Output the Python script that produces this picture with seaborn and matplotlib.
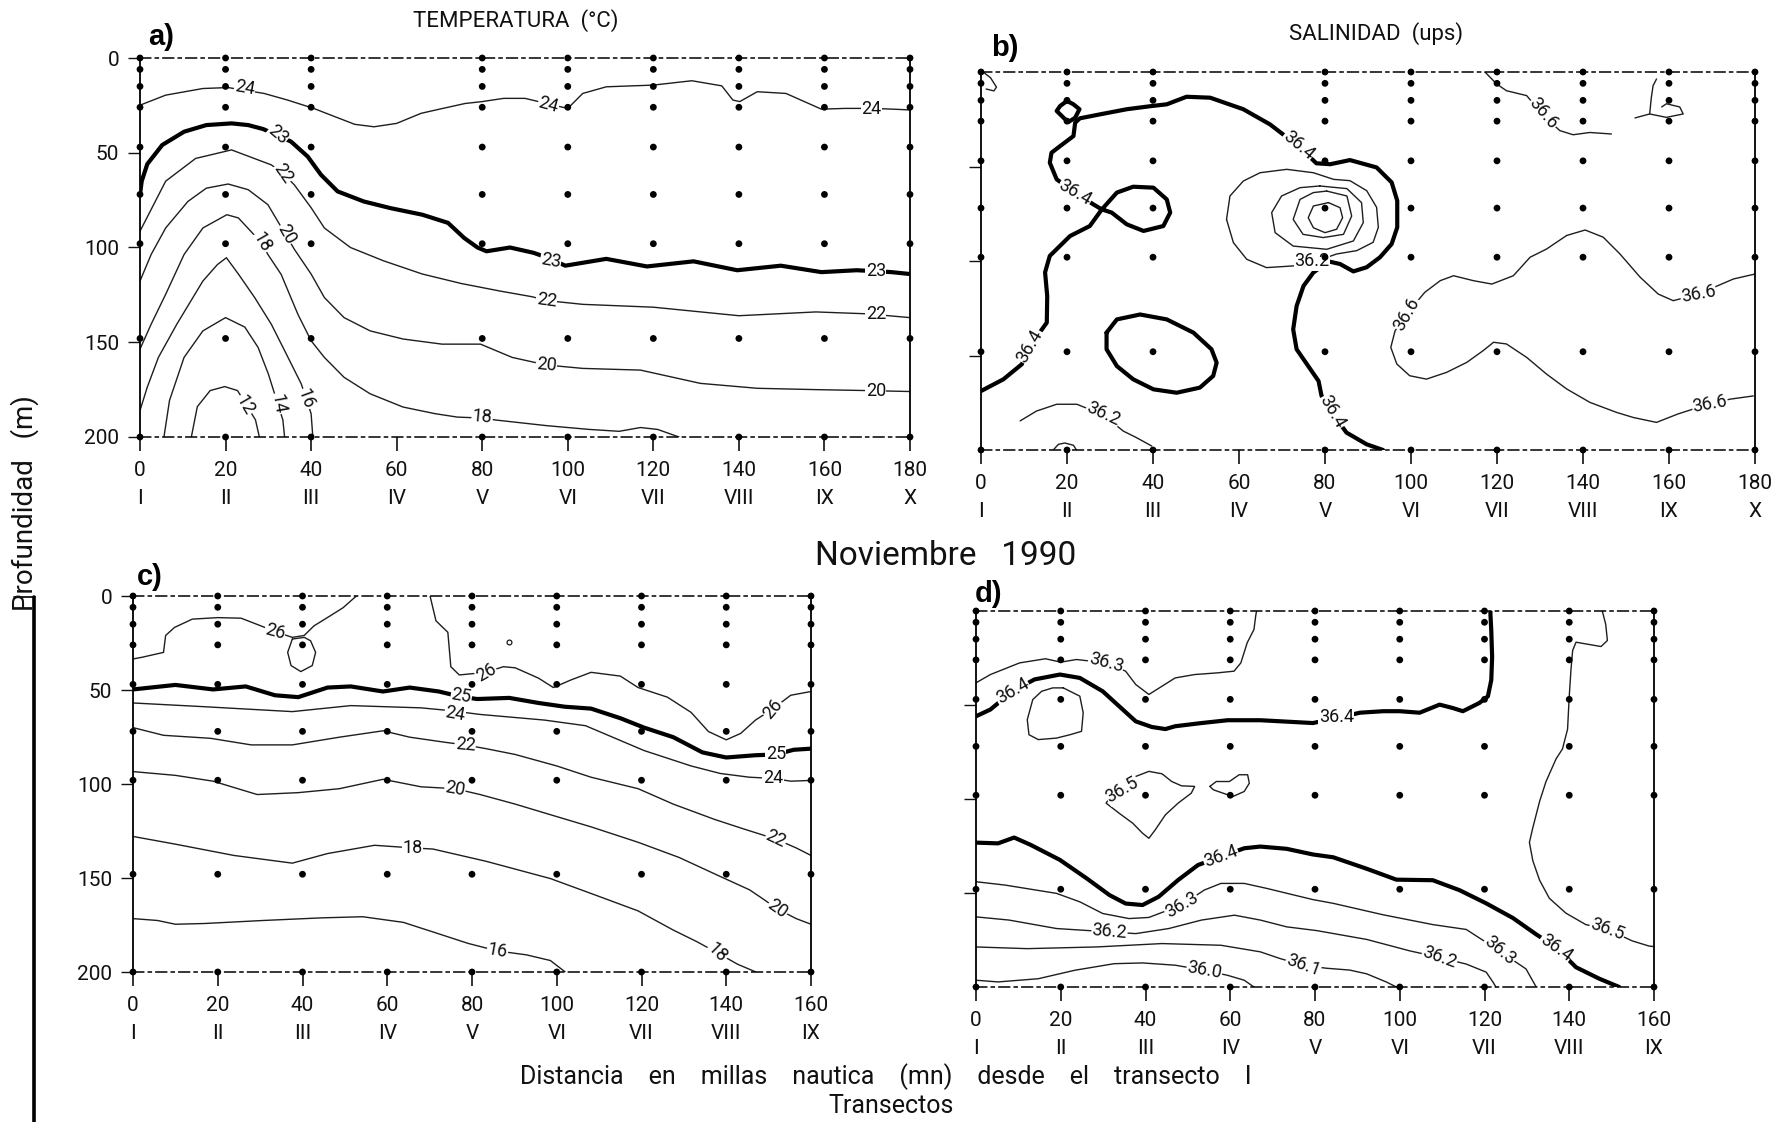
import matplotlib
matplotlib.use("Agg")
import matplotlib.pyplot as plt
from matplotlib.lines import Line2D
import seaborn as sns

## Stations and sampling depths
stations_ab = [0, 20, 40, 80, 100, 120, 140, 160, 180]
stations_cd = [0, 20, 40, 60, 80, 100, 120, 140, 160]
sample_depths = [0, 6, 15, 26, 47, 72, 98, 148, 200]
ticks_ab = [0, 20, 40, 60, 80, 100, 120, 140, 160, 180]
ticks_cd = [0, 20, 40, 60, 80, 100, 120, 140, 160]
roman = ['I', 'II', 'III', 'IV', 'V', 'VI', 'VII', 'VIII', 'IX', 'X']
depth_ticks = [0, 50, 100, 150, 200]

## a) Temperatura - isotherm depth (m) along the section (mn)
a_t24_x = [0, 6, 14.7, 20.6, 29, 34.5, 40.6, 45.6, 50.2, 54.7, 60, 65.7, 70, 76, 80, 85, 90, 95, 100, 103.5,
           109, 120, 129, 136, 138.6, 140.2, 144.3, 151, 159.3, 164.8, 171, 176, 180]
a_t24_d = [24.9, 19.6, 16.1, 15.6, 18.7, 22.2, 26.6, 31, 35, 36.3, 34.5, 29.2, 27, 24, 23, 21.3, 21.3, 24, 26.6, 18.7,
           15.2, 14.3, 12, 14.7, 22.2, 23, 17.8, 18.7, 27, 26.6, 26.6, 27, 27.4]
a_t23_x = [0, 0.4, 1.7, 5.2, 10.3, 15.5, 21.4, 25.3, 28.8, 35.3, 39.2, 42.3, 46.2, 52.3, 58.5, 66, 72, 75.8, 78.9, 81,
           86.5, 92, 96, 99.4, 109, 118.5, 129.4, 139.6, 149.8, 159.3, 167.5, 172, 175.7, 180]
a_t23_d = [72, 65, 56, 45.9, 38.9, 35.4, 34.5, 35.4, 37.5, 44.1, 52, 61.6, 70.4, 75.7, 79.2, 82.7, 87, 95, 100, 102,
           100, 102.8, 106, 109.6, 106, 110, 107.3, 112, 109.6, 113, 112, 112.5, 113, 114]
a_t22_x = [0, 6, 13, 21.4, 30.7, 33.4, 36.1, 40, 43.1, 49.2, 56.9, 66, 75.1, 84.2, 91.7, 95, 103.5, 120, 140, 158, 170, 180]
a_t22_d = [91.4, 65, 53, 48.5, 56.4, 60.8, 67, 79, 89.7, 100, 107, 114, 119, 123, 126, 128, 130, 131.5, 136, 134, 135, 137]
a_t20_x = [0, 2.6, 6, 11.2, 15.5, 20.6, 25.3, 29.9, 36.1, 40, 43.1, 47.7, 53.8, 61.5, 70.6, 79.6, 87, 95, 103.5, 117,
           131, 144.3, 158, 170, 180]
a_t20_d = [117.7, 103.7, 89.7, 75.7, 68.7, 66.5, 69.5, 77.4, 101, 114, 126.4, 137, 144, 148.3, 151, 151, 158, 162, 163.8,
           164.7, 171.7, 174.3, 175, 175.5, 176]
a_t18_x = [0, 2.6, 6, 10.3, 14.7, 20.3, 23, 28.4, 29.9, 33, 36.9, 40, 43.1, 47.7, 53.8, 61.5, 69, 74.2, 80, 83, 95, 105,
           112, 117, 121, 126]
a_t18_d = [153.6, 140.5, 124.7, 103.7, 89.7, 82.7, 84.4, 97.5, 103.7, 114.2, 135.2, 149.2, 158, 168.5, 177.2, 184.2,
           187.7, 189.5, 190, 191, 194, 196, 197, 195, 196, 200]
a_t16_x = [0, 1.7, 4.3, 8.6, 14.7, 18.1, 20.2, 23, 26.8, 30.7, 34.6, 37.7, 40, 40.4]
a_t16_d = [186, 173.7, 158, 140.5, 117.7, 109, 105.4, 114, 126.4, 140.5, 158, 172, 187.7, 200]
a_t14_x = [5.6, 6.9, 10.3, 14.7, 20, 24.5, 27.6, 30, 31.1, 33.4, 33.8]
a_t14_d = [200, 180.7, 158, 144, 137, 142, 152.7, 166.7, 174.6, 191, 200]
a_t12_x = [12, 13.4, 16.4, 19.8, 22.8, 27, 27.9]
a_t12_d = [200, 184, 175.5, 173.4, 175.5, 191, 200]

## b) Salinidad
b_s364_x = [0, 5.2, 9.5, 11.4, 15.3, 15.4, 14.9, 16, 20.7, 25.3, 28.1, 31.6, 35.4, 40.1, 43.2, 44, 42.4, 37.8, 33.9,
            30.4, 28.1, 26.1, 21.9, 17.6, 16, 16.4, 18.4, 21.5, 21.9, 23, 27.7, 33.9, 39.7, 43.2, 47.8, 53.3, 61, 67.2,
            73.8, 78, 81.2, 85.8, 92, 95.5, 96.8, 96.8, 95.5, 92.8, 89.7, 86.6, 83.5, 80.8, 77.3, 75, 73.4, 72.6, 73.4,
            76.1, 78.5, 79.2, 81.6, 85, 89.7, 93.5]
b_s364_d = [168.8, 162.6, 154.6, 145, 132.6, 118.5, 106, 97.3, 86.8, 81.5, 72.7, 63.8, 60.7, 61.2, 67.4, 74.4, 81.5,
            84.1, 80.6, 74.4, 72.7, 70, 63.8, 56.8, 48, 42.7, 39.2, 33.9, 26.8, 24.5, 22.4, 19.7, 18, 17.1, 13.1, 13.6,
            19.7, 27.7, 39.2, 48.3, 48.8, 46.6, 50.5, 58.4, 68.1, 82.2, 91, 98, 103.3, 105.5, 101.6, 100.2, 106.1, 113.2,
            123.8, 136.2, 146.7, 155.6, 163.5, 171.4, 180.2, 190.8, 197, 200]
b_s364_ring_x = [29.2, 31.6, 37, 43.2, 49.4, 53.6, 54.8, 54, 50.9, 45.5, 40.1, 35.4, 31.6, 29.2, 29.2]
b_s364_ring_d = [137.9, 130.9, 128.3, 130.9, 137.9, 146.7, 153.8, 160.8, 167, 169.7, 167.9, 162.6, 155.6, 146.7, 137.9]
b_s364_small_x = [20, 18.4, 17.6, 19.2, 20.3, 21.9, 22.9, 21.5, 20]
b_s364_small_d = [15.3, 18, 20.6, 24.2, 26.5, 24.2, 19.7, 17.1, 15.3]
b_corner_x = [0.5, 2.2, 3.6, 3.0, 1.2]
b_corner_d = [0, 3, 8, 10, 9]
b_eddy1_x = [80.8, 83.5, 84.1, 82.7, 80, 77.3, 76.1, 77.3, 80.8]
b_eddy1_d = [69.1, 71.8, 77.1, 83.2, 85, 82.4, 77.1, 70.9, 69.1]
b_eddy2_x = [80.4, 85.1, 86.2, 84.3, 79.6, 74.9, 72.6, 74.2, 77.3, 80.4]
b_eddy2_d = [63, 65.6, 76.2, 85.9, 87.6, 85.9, 78, 67.4, 63.8, 63]
b_eddy3_x = [78.8, 85.1, 88.5, 88.9, 86.6, 80.4, 72.6, 68.4, 67.6, 69.9, 74.2, 78.8]
b_eddy3_d = [60.3, 61.7, 69.1, 79.7, 89.4, 93.8, 92.1, 85, 74.4, 65.6, 61.2, 60.3]
b_s362_eddy_x = [57.1, 57.9, 61, 64.9, 71.1, 77.3, 82, 85.8, 89.7, 92, 92.4, 91.2, 87.4, 82.7, 78, 72.6, 66.4, 61.8,
                 58.7, 57.1]
b_s362_eddy_d = [78, 65.6, 57.7, 53.3, 51.5, 53.3, 56.8, 57.5, 62.8, 71.6, 82.2, 90.1, 94.5, 96.3, 100, 102.6, 103.5,
                 99.1, 90.3, 78]
b_s362_x = [9.1, 12.9, 17.6, 22.3, 28.4, 33.1, 36.2, 39.7]
b_s362_d = [184.6, 179.4, 175.8, 175.8, 181.4, 190, 193.5, 197.9]
b_s362_arc_x = [16.8, 18, 19.5, 21.5, 22.2]
b_s362_arc_d = [200, 197, 196.3, 197.5, 200]
b_s366_top_x = [117.2, 119.9, 122.2, 126.9, 130.8, 134.6, 137.7, 141.6, 146.6]
b_s366_top_d = [0, 6.3, 9.9, 12.5, 23, 31, 33.2, 32, 32.8]
b_s366_frag_x = [152.1, 155.5, 155.9, 156.3, 157.1]
b_s366_frag_d = [24.3, 22.2, 13.4, 7.2, 3.7]
b_s366_loop_x = [155.5, 159.4, 163.3, 162.5, 159.4, 158.3]
b_s366_loop_d = [22.2, 24, 22.2, 18.5, 16.8, 18.5]
b_s366_x = [180, 175, 166.8, 161, 157.5, 153.3, 148.6, 144.7, 140.5, 136.2, 131.5, 127.7, 123.8, 118.8, 114.5, 109.9,
            106.8, 103.2, 99, 96.3, 95.3, 96.7, 99.7, 103.6, 108.3, 113, 116.8, 119.2, 122.2, 126.9, 131.5, 136.2, 141.6,
            147.8, 151.7, 157.1, 162, 169.5, 174.2, 179.6]
b_s366_d = [106.9, 109.5, 117.5, 121, 117.5, 108.6, 96.3, 87.4, 83.6, 86.5, 93.7, 98, 107.8, 112.2, 110.4, 107.8, 110.4,
            116.6, 128, 136.9, 145.7, 154.5, 160.7, 162.5, 158.9, 153.6, 147.4, 143, 143.9, 151, 159.8, 167.7, 174.8,
            180.1, 182.8, 185.4, 181, 175.5, 173.1, 171.4]

## c) Temperatura
c_t26_x = [0, 2.1, 7.2, 7.7, 9.8, 14, 20, 25.5, 30.2, 34.1, 37.6, 40.4, 42.7, 46.5, 49.6, 52.7]
c_t26_d = [33.5, 32.6, 30, 21, 16.7, 12.3, 11.5, 11.8, 15.9, 19.4, 22, 21, 15.9, 10.6, 6.2, 0]
c_t26_loop_x = [37.6, 36.5, 37.3, 39.6, 42.3, 43.1, 41.9, 40.4, 37.6]
c_t26_loop_d = [22.9, 30, 37, 40.2, 37, 30, 23.8, 22, 22.9]
c_t26b_x = [70.1, 71.5, 74.3, 75, 77, 83.3, 87.4, 90.2, 95.7, 99.2, 103.3, 108.1, 115, 119.2, 126.1, 131.7, 135.8, 140,
            143.4, 146.9, 151, 155.2, 160]
c_t26b_d = [0, 13.2, 19.3, 37.6, 42, 40.6, 37.6, 38.2, 43.7, 48.7, 44.7, 40.6, 42.6, 48.7, 53.8, 61.9, 72.1, 76.5, 73.1,
            66, 60, 52.8, 50.8]
c_t25_x = [0, 10, 18.9, 26.6, 33.5, 39, 45.9, 51.4, 59, 65.3, 72.2, 77, 81.2, 88.8, 95.7, 101.9, 108.1, 115, 120.6,
           127.5, 134.4, 140, 146.9, 151.7, 155.9, 160]
c_t25_d = [49.7, 47.3, 49.7, 48.1, 52.8, 53.8, 48.7, 48.1, 50.8, 48.7, 50.8, 53.4, 54.8, 54.2, 56.9, 58.9, 59.9, 65, 70,
           75.1, 83.2, 85.9, 84.7, 84.3, 81.8, 81.2]
c_t24_x = [0, 16.9, 37.6, 51.4, 68, 75, 81.9, 97.1, 106.8, 120.6, 131.7, 138.6, 145.5, 151, 155.2, 160]
c_t24_d = [56.9, 58.9, 61.5, 58.3, 59.5, 61, 63, 66, 69, 82.2, 90.4, 94.4, 96.4, 97, 98.5, 98.1]
c_t22_x = [0, 7.2, 18.3, 27.9, 37.6, 48.7, 59, 65.3, 73.6, 78.4, 83.3, 90.2, 100, 108.1, 119.2, 127.5, 137.2, 144.1,
           151.7, 156.5, 160]
c_t22_d = [70, 74.1, 75.7, 79.2, 79.2, 75.1, 71.7, 75.1, 77.8, 79.2, 81.2, 84.3, 90.4, 96.4, 102.5, 110.7, 118.8, 123.9,
           129.3, 134, 138]
c_t20_x = [0, 10, 18.9, 29.3, 39, 48.7, 59, 68, 76, 81.9, 90.2, 99.2, 108.1, 119.2, 128.9, 138.6, 145.5, 148.2, 152.1,
           156.5, 160]
c_t20_d = [93.4, 95.4, 98.5, 105.6, 104.6, 102.5, 97.5, 101.5, 102.5, 105.6, 110.7, 116.8, 122.8, 131, 139.1, 149.2,
           156.3, 160.4, 166.5, 171.6, 174.6]
c_t18_x = [0, 10, 23.8, 37.6, 45.9, 57, 66, 70.8, 83.3, 98.5, 109.5, 119.2, 127.5, 133, 137.9, 142.7, 147]
c_t18_d = [127.9, 132, 138, 142.1, 137, 132.6, 134, 134.6, 141.1, 150.3, 159.4, 167.5, 177.7, 183.8, 189.8, 195.9, 200]
c_t16_x = [0, 5.8, 10, 16.9, 30.7, 44.5, 54.2, 63.8, 70.8, 79.1, 86, 92.9, 98.5, 102]
c_t16_d = [171.6, 172.6, 174.6, 174.2, 172.6, 171.2, 170.6, 173.6, 178.7, 184.8, 188.8, 190.9, 193.9, 200]

## d) Salinidad
d_s363_x = [0, 3.4, 10.3, 16.4, 20, 23.7, 30.7, 35.3, 37.7, 40.8, 43.9, 47, 51.6, 57, 60.9, 62.5, 64, 65.6, 66, 66.2]
d_s363_d = [38.2, 33.8, 27.6, 25.4, 27.2, 25.8, 27.6, 32, 39.1, 44.4, 40, 35.6, 33.8, 32.9, 32, 27.6, 16.9, 9.8, 2.7, 0]
d_s364_x = [0, 3.4, 8.6, 13.8, 19.8, 24.5, 29.9, 33.8, 37.7, 41.5, 44.7, 47, 53.2, 59.4, 67.1, 79.5, 85, 90.6, 96.1,
            100, 104.7, 109.4, 112.5, 114.9, 118.8, 120.8, 121.6, 121.8, 121.6, 121.4, 121.4]
d_s364_d = [56, 52.4, 42.7, 36.4, 33.8, 35.6, 42.7, 50.7, 58.7, 61.7, 62.8, 61.3, 59.6, 58.1, 58.1, 59.6, 57, 54.1,
            53.3, 53.3, 54.1, 49.8, 51.6, 53.3, 48.9, 45.4, 36.7, 24.5, 10.5, 1.7, 0]
d_loop_x = [20.6, 24.5, 25.3, 24.9, 22.2, 19, 14.7, 12.5, 12.1, 13.4, 15.5, 18.1, 20.6]
d_loop_d = [40.9, 45.3, 54.2, 64, 65.8, 67.6, 68.4, 65.8, 57.8, 47.1, 42.7, 40.9, 40.9]
d_s365_x = [34.5, 37.7, 40.8, 43.9, 46.2, 48.5, 51.6, 50.8, 47.7, 44.7, 42.3, 40.8, 39.3, 37, 33.8, 30.7, 31.5, 34.5]
d_s365_d = [95, 88, 85.3, 86.6, 90.7, 93, 93.3, 96.9, 102.2, 108.4, 116.4, 120.9, 118.2, 112.9, 107.6, 102.2, 99.5, 95]
d_s365b_x = [55.2, 56.7, 59.8, 62.1, 64.1, 64.5, 63.3, 60.6, 58.3, 56, 55.2]
d_s365b_d = [93.3, 90.7, 90.7, 87.1, 87.1, 91.6, 96, 98.7, 96.9, 95.1, 93.3]
d_s364b_x = [0, 5.2, 9, 12.9, 19.8, 26.1, 31.5, 35.3, 39.3, 43.1, 47.7, 52.4, 57.8, 63.3, 67.1, 73.3, 79.5, 84.3, 92.2,
             99.2, 107.8, 114.1, 120.4, 126.7, 132.2, 136.9, 141.6, 147.1, 151.8]
d_s364b_d = [123.2, 123.6, 120.5, 124.4, 132.4, 142.2, 151.1, 155.6, 156.4, 152, 143.1, 135.1, 130.7, 126.2, 125.3,
             126.5, 129.5, 131, 137.1, 142.9, 143.2, 148.5, 155.5, 163.3, 172, 179, 189.5, 195.6, 200]
d_s363b_x = [0, 6.9, 19, 24.5, 29.9, 36.1, 40.8, 48.5, 53.9, 57.8, 63.3, 68.7, 74.9, 79.5, 84.3, 96.1, 107.8, 115.7,
             123.5, 129.8, 132.2]
d_s363b_d = [144, 145.8, 150.2, 154.7, 160.9, 163.6, 163, 156.4, 148.4, 144.9, 144.9, 147.6, 151, 153.5, 155.5, 161.6,
             166.8, 169.4, 180.8, 190.4, 200]
d_s362_x = [0, 7.8, 19, 31.5, 37.7, 45.5, 53.2, 61, 67.1, 73.3, 80.4, 92.2, 102.4, 109.4, 115.7, 120.4, 122, 122.7]
d_s362_d = [162.7, 164.4, 168.9, 170.7, 171.6, 168.9, 164.4, 161.8, 164.4, 168, 170, 174.7, 180.8, 184.3, 187.8, 192.1,
            197.4, 200]
d_s361_x = [0, 12.1, 28.4, 43.9, 57.8, 67.1, 71.8, 77.2, 82.6, 88.2, 92.2, 96.9, 99.2]
d_s361_d = [178.7, 179.6, 178.7, 176.9, 177.8, 181.3, 184.9, 188.4, 190, 191, 193, 197.4, 200]
d_s360_x = [0, 5.2, 14.7, 23.3, 32.6, 39.3, 47, 53.9, 59.4, 63.3, 65.6]
d_s360_d = [196.4, 197.3, 195.6, 191.1, 187.6, 187.2, 188.4, 191.1, 193.8, 196.4, 200]
d_s365r_x = [147.8, 148.6, 149, 147.5, 143.9, 141.6, 140.8, 140.4, 140, 139.6, 138.4, 136.9, 134.5, 133, 131.4, 130.6,
             131.4, 133, 135.3, 139.2, 143.9, 149, 154.9, 158.8, 160]
d_s365r_d = [0, 7, 15.7, 18.9, 17.5, 16.6, 21, 31.4, 45.4, 62.9, 73.4, 78.6, 90.8, 101.3, 115.3, 123.1, 132.8, 143.2,
             152.8, 160.7, 166.8, 169.4, 175.5, 178.2, 178.5]

sns.set_theme(style='white')
plt.rcParams['font.family'] = ['Roboto', 'DejaVu Sans']
plt.rcParams['font.weight'] = 'normal'

W, H = 1791, 1122
fig = plt.figure(figsize=(W / 100, H / 100), dpi=100)
fig.patch.set_facecolor('white')
TC = '#111111'


def panel(l, t, r, b):
    return fig.add_axes([l / W, 1 - b / H, (r - l) / W, (b - t) / H])


def iso(ax, xs, ds, thick=False):
    sns.lineplot(x=xs, y=ds, ax=ax, sort=False, estimator=None, legend=False,
                 color='black' if thick else '#1e1e1e', linewidth=3.0 if thick else 1.0)


def lab(ax, x, d, s, rot=0):
    ax.text(x, d, s, rotation=rot, ha='center', va='center', fontsize=13, color=TC,
            bbox=dict(facecolor='white', edgecolor='none', pad=0.4), zorder=4)


def frame(ax, xmax, ticks, stations, ylabels):
    ax.set_xlim(0, xmax)
    ax.set_ylim(200, 0)
    ax.set_xlabel('')
    ax.set_ylabel('')
    ax.set_xticks(ticks, labels=[f'{t}\n{roman[i]}' for i, t in enumerate(ticks)])
    for lbl in ax.get_xticklabels():
        lbl.set_linespacing(1.6)
    if ylabels:
        ax.set_yticks(depth_ticks, labels=[str(v) for v in depth_ticks])
    else:
        ax.set_yticks([50, 100, 150], labels=[])
    ax.tick_params(axis='x', direction='out', length=10, width=1.2, pad=7, labelsize=15, colors=TC)
    ax.tick_params(axis='y', direction='out', length=9, width=1.0, pad=6, labelsize=15, colors=TC)
    ax.tick_params(left=True, bottom=True)
    for side in ['left', 'right']:
        ax.spines[side].set_linewidth(1.3)
        ax.spines[side].set_color('black')
    for side in ['top', 'bottom']:
        ax.spines[side].set_linewidth(1.1)
        ax.spines[side].set_color('black')
        ax.spines[side].set_linestyle((0, (7, 3, 2, 3)))
    xs = [s for s in stations for _ in sample_depths]
    ds = [d for _ in stations for d in sample_depths]
    sns.scatterplot(x=xs, y=ds, ax=ax, s=24, color='black', edgecolor='none', zorder=6,
                    clip_on=False, legend=False)


# a) temperature, upper section
ax = panel(140, 58, 910, 437)
for xs, ds, th in [(a_t24_x, a_t24_d, False), (a_t23_x, a_t23_d, True), (a_t22_x, a_t22_d, False),
                   (a_t20_x, a_t20_d, False), (a_t18_x, a_t18_d, False), (a_t16_x, a_t16_d, False),
                   (a_t14_x, a_t14_d, False), (a_t12_x, a_t12_d, False)]:
    iso(ax, xs, ds, th)
for s, x, d, r in [('24', 24.5, 16, -10), ('23', 32.2, 40.6, -40), ('22', 33.4, 61, -55), ('20', 34.2, 93, -60),
                   ('18', 28.4, 97.5, -60), ('16', 38.7, 180, -70), ('14', 32.2, 182.5, -80), ('12', 24.6, 183, -60),
                   ('24', 95.5, 24.5, -15), ('23', 96, 107, -10), ('22', 95, 128, -8), ('20', 95, 162, -5),
                   ('18', 80, 189.5, -5), ('24', 171, 26.8, 0), ('23', 172, 112.5, 0), ('22', 172, 135, 0),
                   ('20', 172, 175.5, 0)]:
    lab(ax, x, d, s, r)
frame(ax, 180, ticks_ab, stations_ab, True)

# b) salinity, upper section
ax = panel(981, 72, 1755, 450)
for xs, ds, th in [(b_s364_x, b_s364_d, True), (b_s364_ring_x, b_s364_ring_d, True),
                   (b_s364_small_x, b_s364_small_d, True), (b_corner_x, b_corner_d, False),
                   (b_eddy1_x, b_eddy1_d, False), (b_eddy2_x, b_eddy2_d, False), (b_eddy3_x, b_eddy3_d, False),
                   (b_s362_eddy_x, b_s362_eddy_d, False), (b_s362_x, b_s362_d, False),
                   (b_s362_arc_x, b_s362_arc_d, False), (b_s366_top_x, b_s366_top_d, False),
                   (b_s366_frag_x, b_s366_frag_d, False), (b_s366_loop_x, b_s366_loop_d, False),
                   (b_s366_x, b_s366_d, False)]:
    iso(ax, xs, ds, th)
for s, x, d, r in [('36.4', 11.4, 145, 60), ('36.4', 21.9, 63.8, -30), ('36.4', 73.8, 39, -40),
                   ('36.2', 77, 100, 0), ('36.4', 81.6, 180, -60), ('36.2', 28.4, 181, -25),
                   ('36.6', 130.8, 22, -50), ('36.6', 99, 128, 60), ('36.6', 166.8, 117.5, 10),
                   ('36.6', 169.5, 175.5, 10)]:
    lab(ax, x, d, s, r)
frame(ax, 180, ticks_ab, stations_ab, False)

# c) temperature, lower section
ax = panel(133, 596, 811, 972)
for xs, ds, th in [(c_t26_x, c_t26_d, False), (c_t26_loop_x, c_t26_loop_d, False), (c_t26b_x, c_t26b_d, False),
                   (c_t25_x, c_t25_d, True), (c_t24_x, c_t24_d, False), (c_t22_x, c_t22_d, False),
                   (c_t20_x, c_t20_d, False), (c_t18_x, c_t18_d, False), (c_t16_x, c_t16_d, False)]:
    iso(ax, xs, ds, th)
ax.plot([88.8], [24.4], marker='o', ms=3.5, mfc='white', mec='black', mew=0.8, zorder=6)
for s, x, d, r in [('26', 33.5, 19, -15), ('26', 83.3, 40.6, 30), ('26', 151, 60, 50), ('25', 77.5, 53, -10),
                   ('25', 151.7, 84.3, 0), ('24', 76, 62.5, -10), ('24', 151, 97, 0), ('22', 78.4, 79.2, -5),
                   ('22', 151.7, 129.3, -25), ('20', 76, 102.5, -10), ('20', 152.1, 166.5, -35),
                   ('18', 66, 134, 0), ('18', 137.9, 189.8, -45), ('16', 86, 188.8, -10)]:
    lab(ax, x, d, s, r)
frame(ax, 160, ticks_cd, stations_cd, True)

# d) salinity, lower section
ax = panel(976, 611, 1654, 987)
for xs, ds, th in [(d_s363_x, d_s363_d, False), (d_s364_x, d_s364_d, True), (d_loop_x, d_loop_d, False),
                   (d_s365_x, d_s365_d, False), (d_s365b_x, d_s365b_d, False), (d_s364b_x, d_s364b_d, True),
                   (d_s363b_x, d_s363b_d, False), (d_s362_x, d_s362_d, False), (d_s361_x, d_s361_d, False),
                   (d_s360_x, d_s360_d, False), (d_s365r_x, d_s365r_d, False)]:
    iso(ax, xs, ds, th)
for s, x, d, r in [('36.3', 30.7, 27.6, -15), ('36.4', 8.6, 42.7, 30), ('36.4', 85, 56.5, 0),
                   ('36.5', 34.5, 95, 30), ('36.4', 57.8, 130.7, 20), ('36.3', 48.5, 156.4, 30),
                   ('36.4', 136.9, 179, -35), ('36.3', 123.5, 180.8, -40), ('36.2', 31.5, 170.7, -5),
                   ('36.2', 109.4, 184.3, -20), ('36.1', 77.2, 188.4, -20), ('36.0', 53.9, 191.1, -10),
                   ('36.5', 149, 169.4, -20)]:
    lab(ax, x, d, s, r)
frame(ax, 160, ticks_cd, stations_cd, False)

# titles and shared labels
fig.text(516 / W, 1 - 21 / H, 'TEMPERATURA  (°C)', ha='center', va='center', fontsize=16, color=TC)
fig.text(1376 / W, 1 - 34 / H, 'SALINIDAD  (ups)', ha='center', va='center', fontsize=16, color=TC)
fig.text(946 / W, 1 - 556 / H, 'Noviembre   1990', ha='center', va='center', fontsize=24, color=TC)
fig.text(886 / W, 1 - 1077 / H, 'Distancia    en    millas    nautica    (mn)    desde    el    transecto    I',
         ha='center', va='center', fontsize=18, color=TC)
fig.text(891 / W, 1 - 1106 / H, 'Transectos', ha='center', va='center', fontsize=18, color=TC)
fig.text(25 / W, 1 - 503 / H, 'Profundidad   (m)', ha='center', va='center', rotation=90, fontsize=20, color=TC)
for s, x, y in [('a)', 161, 37), ('b)', 1005, 48), ('c)', 150, 577), ('d)', 989, 594)]:
    fig.text(x / W, 1 - y / H, s, ha='center', va='center', fontsize=21, fontweight='bold',
             family=['Liberation Sans', 'DejaVu Sans'], color='black')

fig.add_artist(Line2D([34 / W, 34 / W], [1 - 597 / H, 0], transform=fig.transFigure, color='black', lw=2.6))
fig.add_artist(Line2D([14 / W, 35 / W], [1 - 597 / H, 1 - 597 / H], transform=fig.transFigure, color='black', lw=1.2))

fig.savefig('out.png', dpi=100, facecolor='white')
